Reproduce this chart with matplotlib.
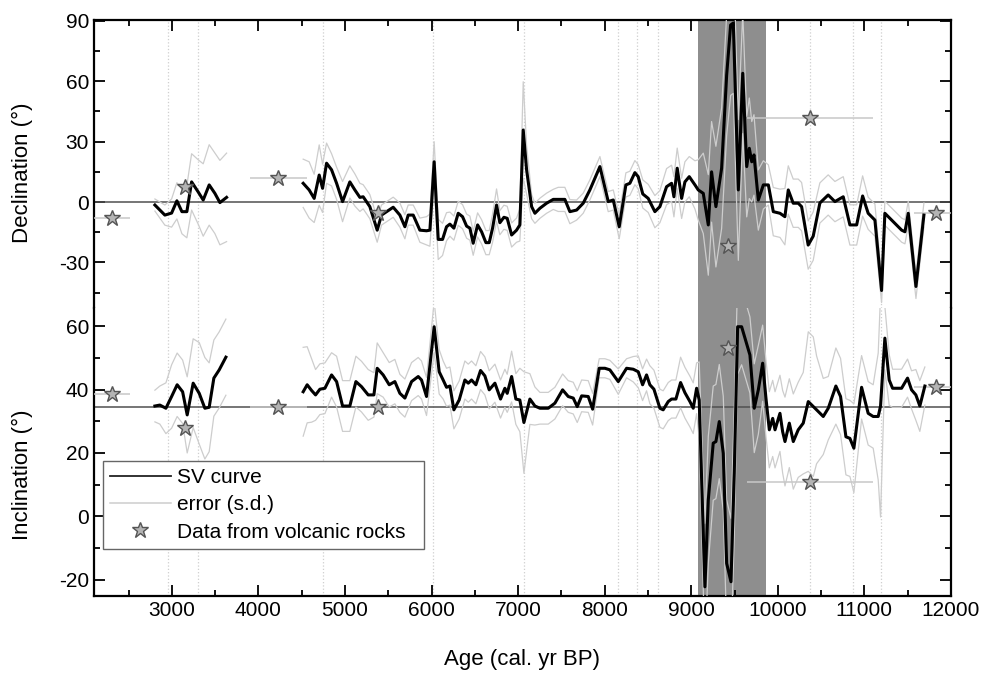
import numpy as np
import matplotlib.pyplot as plt
from matplotlib.lines import Line2D
from matplotlib.ticker import MultipleLocator

plt.rcParams['font.family'] = ['Liberation Sans', 'DejaVu Sans']
plt.rcParams['axes.unicode_minus'] = False

# declination SV curve (age, value, s.d.), nan = gap between the two cores
dec_age = [2804, 2919, 2997, 3058, 3116, 3173, 3228, 3304, 3362, 3431, 3497, 3555, 3632, 4000,
           4517, 4586, 4644, 4702, 4741, 4787, 4845, 4903, 4972, 5056, 5114, 5172, 5210, 5287,
           5372, 5422, 5480, 5557, 5634, 5692, 5730, 5788, 5865, 5942, 5981, 6030, 6077, 6127,
           6173, 6212, 6258, 6308, 6358, 6405, 6443, 6481, 6532, 6578, 6628, 6666, 6705, 6751,
           6789, 6836, 6874, 6925, 6982, 7020, 7059, 7098, 7156, 7194, 7252, 7329, 7406, 7463,
           7540, 7598, 7676, 7752, 7829, 7945, 8041, 8099, 8168, 8245, 8291, 8349, 8387, 8440,
           8503, 8580, 8638, 8715, 8773, 8800, 8838, 8889, 8927, 8977, 9043, 9081, 9139, 9197,
           9235, 9285, 9351, 9409, 9455, 9486, 9544, 9595, 9641, 9671, 9699, 9725, 9775, 9833,
           9891, 9948, 10025, 10082, 10121, 10178, 10236, 10275, 10351, 10409, 10486, 10582,
           10660, 10756, 10833, 10911, 10980, 11044, 11122, 11199, 11237, 11334, 11431, 11469,
           11507, 11596, 11688]
dec = [-1.5, -6.5, -5.5, 0.6, -4.8, -4.8, 10, 5, 1, 8.5, 4.3, -0.3, 2.3, np.nan,
       9.3, 6, 1.8, 13.4, 6.8, 19.3, 16, 9.3, 0.2, 10, 6, 2.3, 2.6, -2.3,
       -14, -6.5, -4.8, -2.6, -6.5, -12.3, -6.5, -6.5, -14, -14.3, -14, 20, -18.6, -18.6,
       -12.3, -11, -13, -5.6, -7.3, -12, -13, -20.5, -11.4, -14.8, -20.2, -20.2, -13, -1.5,
       -10.3, -7.6, -8.1, -16.4, -14, -11.4, 35.8, 16, -2.3, -5.6, -3.1, -0.6, 1.3, 1.3,
       1.3, -4.8, -4, -0.6, 6, 17.6, 0.2, 1, -12.3, 8.5, 9.3, 14.6, 12.6, 4,
       1.8, -4.8, -2.3, 7.6, 9.3, 2.6, 16.8, 1.8, 10, 12.6, 8.5, 6, 4.3, -11.4,
       15, -2.3, 16.8, 63, 88, 89, 6, 64, 17.6, 26.7, 20, 23.4, 1, 8.5,
       8.5, -4.8, -5.6, -7.3, 6, -0.6, -0.6, -2.3, -21.4, -17, -0.5, 3.5,
       0.2, 2.6, -11.4, -11.4, 3, -5.6, -9, -44, -5.6, -9.8, -14, -14.8,
       -5.6, -42, -6.5]
dec_sd = [3, 5, 7, 9, 11, 13, 14, 16, 18, 20, 20, 21, 22, np.nan,
          12, 14, 12, 15, 12, 10, 8, 8, 10, 8, 8, 7, 6, 6,
          6, 5, 5, 5, 6, 6, 5, 5, 6, 7, 8, 10, 10, 8,
          7, 6, 6, 6, 6, 6, 6, 6, 6, 6, 6, 6, 7, 8,
          6, 6, 6, 6, 6, 8, 24, 12, 6, 5, 5, 5, 5, 6,
          6, 6, 5, 5, 5, 5, 5, 5, 6, 6, 6, 6, 6, 7,
          7, 8, 8, 9, 9, 10, 10, 10, 10, 10, 12, 15, 20, 25,
          25, 30, 30, 30, 35, 35, 35, 30, 25, 25, 20, 20, 15, 12,
          10, 12, 12, 14, 12, 12, 12, 12, 12, 12, 10, 10,
          10, 10, 10, 10, 10, 8, 8, 6, 6, 6, 6, 6,
          6, 6, 6]

# inclination SV curve
inc_age = [2804, 2861, 2931, 2997, 3061, 3124, 3177, 3246, 3316, 3381, 3431, 3485, 3547, 3624, 4000,
           4517, 4563, 4614, 4660, 4710, 4768, 4845, 4903, 4972, 5056, 5126, 5191, 5268, 5334,
           5372, 5441, 5511, 5576, 5634, 5692, 5769, 5846, 5884, 5942, 6030, 6088, 6134, 6173,
           6212, 6258, 6319, 6385, 6424, 6462, 6512, 6566, 6616, 6666, 6732, 6797, 6847, 6874,
           6925, 6974, 7020, 7067, 7136, 7194, 7252, 7348, 7425, 7514, 7579, 7637, 7683, 7734,
           7810, 7861, 7937, 8003, 8060, 8157, 8253, 8330, 8388, 8438, 8484, 8522, 8569, 8638,
           8676, 8734, 8773, 8823, 8877, 8927, 8985, 9023, 9062, 9092, 9158, 9197, 9254, 9285,
           9324, 9370, 9409, 9459, 9497, 9536, 9582, 9632, 9678, 9728, 9775, 9825, 9863, 9902,
           9941, 9968, 10025, 10056, 10083, 10133, 10179, 10236, 10294, 10352, 10410, 10448,
           10525, 10583, 10671, 10725, 10787, 10833, 10879, 10968, 11044, 11102, 11160, 11187,
           11237, 11287, 11326, 11430, 11499, 11545, 11595, 11641, 11699]
inc = [34.8, 35.1, 34.1, 37.8, 41.5, 39.3, 32, 42, 38.8, 34.1, 34.4, 43.6, 46.2, 50.2, np.nan,
       39.3, 41.5, 39.7, 38.3, 40.1, 40.4, 44.6, 42.5, 34.8, 34.8, 42.5, 40.9, 38.3, 38.3,
       46.7, 44.6, 41.5, 42.5, 38.8, 37.3, 42.5, 44.1, 43, 37.8, 59.8, 45.6, 43, 40.7,
       41.1, 33.6, 36.7, 43, 42, 43, 41.5, 46, 44.3, 39.9, 42, 37, 40.4, 38.8,
       44.1, 37, 36.7, 29.6, 37, 34.8, 34.1, 34.1, 35.7, 39.9, 37.8, 37.3, 34.6, 38,
       37.8, 33.8, 46.7, 46.7, 46.2, 42.5, 46.7, 46.4, 45.6, 41.5, 44.6, 41.5, 40.1, 34.1,
       33.6, 36.2, 37, 37, 42.2, 39, 36.2, 34.1, 40.4, 36.7, -22.2, 5.2, 23.1, 23.6,
       29.9, 19.9, -14.8, -20.6, 13.6, 59.8, 59.8, 55.1, 50.9, 34.1, 39.9, 48.3, 37.3, 27.3,
       30.9, 27.3, 32.5, 26.7, 23.6, 29.4, 23.6, 27.3, 29.4, 36.2, 34.6, 33.6,
       31.5, 34.1, 41.1, 37.8, 25.1, 24.6, 21.5, 40.7, 32.5, 31.5, 31.5, 34.8,
       56.2, 43, 40.4, 40.4, 43.6, 39.9, 38.3, 34.8, 41.1]
inc_sd = [5, 6, 8, 10, 10, 10, 12, 14, 16, 16, 14, 12, 12, 12, np.nan,
          14, 12, 10, 8, 8, 8, 7, 8, 8, 8, 8, 8, 8, 7,
          8, 7, 7, 7, 6, 6, 6, 6, 6, 6, 8, 7, 6, 6,
          6, 6, 6, 6, 6, 6, 6, 6, 6, 6, 6, 6, 6, 6,
          8, 8, 10, 16, 8, 6, 5, 5, 5, 5, 5, 5, 5, 5,
          5, 5, 3, 3, 3, 4, 3, 4, 5, 5, 5, 6, 6, 6,
          6, 6, 6, 6, 8, 8, 8, 8, 8, 12, 20, 20, 18, 18,
          18, 18, 20, 20, 20, 15, 12, 12, 12, 14, 14, 12, 12, 12,
          12, 12, 12, 13, 14, 14, 15, 15, 16, 22, 22, 17,
          12, 10, 12, 12, 12, 12, 14, 10, 10, 10, 20, 35,
          10, 8, 6, 6, 6, 6, 8, 8, 6]

# volcanic rock data
volc_age = [2303, 3150, 4228, 5380, 9427, 10371, 11827]
volc_age_err = [210, 0, 330, 0, 0, 730, 250]
volc_dec = [-8, 7.6, 12, -5.6, -22, 41.6, -5.6]
volc_inc = [38.5, 27.8, 34.4, 34.6, 53, 10.9, 40.7]

# age control lines and the shaded excursion interval
ctrl_ages = [2957, 3304, 4741, 6020, 7067, 8157, 8377, 8618, 10371, 10872, 11187]
band = [9080, 9860]
gad_inc = 34.6

fig = plt.figure(figsize=(9.85, 6.75), dpi=100)
ax1 = fig.add_axes([0.0954, 0.5437, 0.870, 0.4267])
ax2 = fig.add_axes([0.0954, 0.1170, 0.870, 0.4267], sharex=ax1)

panels = [(ax1, dec_age, dec, dec_sd, volc_dec, 0.0),
          (ax2, inc_age, inc, inc_sd, volc_inc, gad_inc)]

for ax, age, val, sd, vol, ref in panels:
    age = np.array(age, dtype=float)
    val = np.array(val, dtype=float)
    sd = np.array(sd, dtype=float)
    ax.axvspan(band[0], band[1], color='#8e8e8e', lw=0, zorder=0)
    for a in ctrl_ages:
        ax.axvline(a, color='#cfcfcf', ls=':', lw=0.9, zorder=1)
    ax.axhline(ref, color='#505050', lw=1.1, zorder=2)
    ax.plot(age, val + sd, color='#cdcdcd', lw=0.9, zorder=3)
    ax.plot(age, val - sd, color='#cdcdcd', lw=0.9, zorder=3)
    ax.errorbar(volc_age, vol, xerr=volc_age_err, fmt='none', ecolor='#c8c8c8',
                elinewidth=1.1, capsize=0, zorder=3)
    ax.plot(age, val, color='black', lw=2.2, zorder=4)
    ax.plot(volc_age, vol, ls='none', marker='*', ms=12, mfc='#b4b4b4',
            mec='#555555', mew=1, zorder=5)
    for s in ax.spines.values():
        s.set_linewidth(1.6)
    ax.tick_params(which='both', direction='in', right=True, labelsize=15, width=1.3)
    ax.tick_params(which='major', length=8)
    ax.tick_params(which='minor', length=4.5)

ax1.set_xlim(2100, 12000)
ax1.xaxis.set_major_locator(MultipleLocator(1000))
ax1.xaxis.set_minor_locator(MultipleLocator(500))

ax1.set_ylim(-52.7, 90.5)
ax1.yaxis.set_major_locator(MultipleLocator(30))
ax1.yaxis.set_minor_locator(MultipleLocator(15))
ax1.spines['bottom'].set_visible(False)
ax1.tick_params(which='both', top=True, bottom=False, labelbottom=False)

ax2.set_ylim(-25.1, 65.7)
ax2.yaxis.set_major_locator(MultipleLocator(20))
ax2.yaxis.set_minor_locator(MultipleLocator(10))
ax2.spines['top'].set_visible(False)
ax2.tick_params(which='both', top=False, bottom=True)

ax1.set_ylabel('Declination (°)', fontsize=16)
ax2.set_ylabel('Inclination (°)', fontsize=16)
ax1.yaxis.set_label_coords(-0.071, 0.47)
ax2.yaxis.set_label_coords(-0.071, 0.42)
ax2.set_xlabel('Age (cal. yr BP)', fontsize=16, labelpad=21)

handles = [Line2D([], [], color='#222222', lw=1.3),
           Line2D([], [], color='#cdcdcd', lw=1.1),
           Line2D([], [], ls='none', marker='*', ms=12, mfc='#b4b4b4', mec='#555555')]
leg = ax2.legend(handles, ['SV curve', 'error (s.d.)', 'Data from volcanic rocks  '],
                 loc='lower left', bbox_to_anchor=(0.0105, 0.163), borderaxespad=0,
                 fontsize=15, handlelength=2.9, handletextpad=0.3, labelspacing=0.4,
                 borderpad=0.35, fancybox=False, framealpha=1, edgecolor='#666666')
leg.get_frame().set_linewidth(1.0)
leg.set_zorder(6)

fig.savefig('out.png', dpi=100)
